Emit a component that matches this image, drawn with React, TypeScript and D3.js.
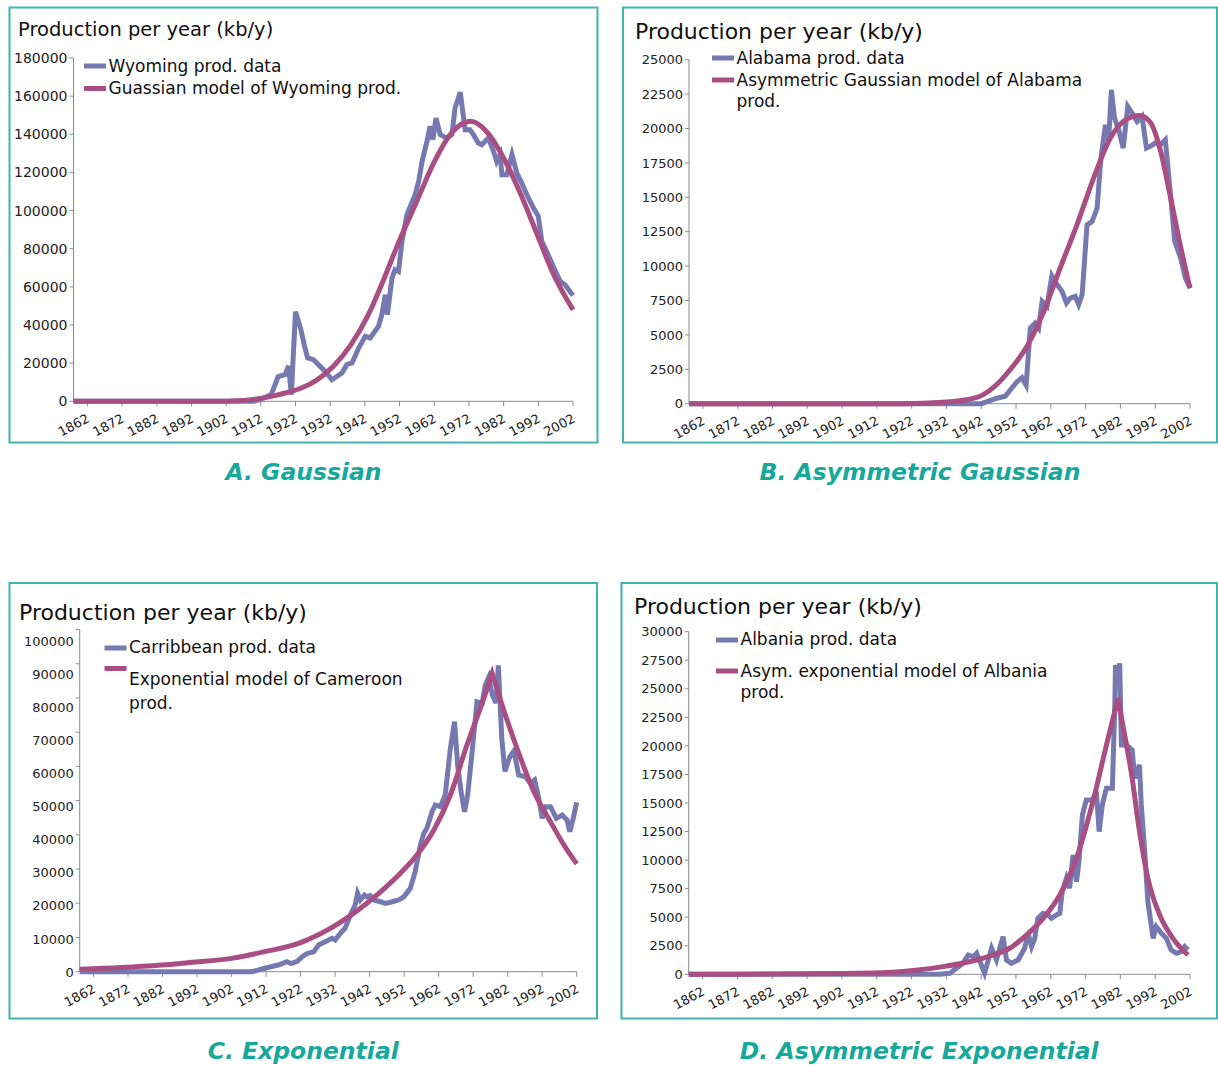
import * as d3 from "d3";

type Pt = [number, number];

const yearTicks = d3.range(1862, 2003, 10);

// A. Wyoming — data and Gaussian model (kb/y)
const wyomingData: Pt[] = [
  [1858, 0], [1910, 0], [1912, 1000], [1915, 3500], [1917, 13000], [1919, 14000], [1920, 18500],
  [1920.8, 3500], [1922, 47000], [1923.5, 38000], [1924.5, 29700], [1925.5, 22700], [1927.2, 21800],
  [1929.1, 18300], [1930.6, 15700], [1932.5, 11300], [1935.4, 14800], [1936.8, 19200], [1938.3, 20100],
  [1940.2, 27900], [1942.1, 34100], [1943.5, 33200], [1945.9, 39300], [1946.9, 45400], [1947.9, 55900],
  [1948.5, 45400], [1949.8, 64600], [1950.7, 69000], [1951.7, 68100], [1952.7, 83900], [1954.1, 97800],
  [1956.5, 108300], [1957.5, 115300], [1958.5, 125800], [1959.9, 136300], [1960.8, 144200], [1961.6, 137200],
  [1962.5, 148500], [1963.7, 139800], [1965.6, 138000], [1967.1, 139800], [1968, 153800], [1969.5, 162000],
  [1970.9, 142400], [1972.3, 142400], [1973.3, 139800], [1974.7, 135400], [1975.7, 134500], [1977.6, 138000],
  [1979.1, 131100], [1980, 125800], [1981, 129300], [1981.5, 118800], [1982.9, 118800], [1984.4, 129300],
  [1985.8, 119700], [1987.2, 114500], [1988.7, 108300], [1990.6, 101300], [1992, 97000], [1993, 83900],
  [1994.4, 78600], [1996.3, 70800], [1998.3, 62900], [1999.7, 61100], [2002, 55500],
];
const wyomingModel: Pt[] = [
  [1858, 0], [1900, 0], [1905, 300], [1910, 1000], [1916, 3000], [1920, 4800], [1924, 7200], [1928, 11000],
  [1933, 18500], [1938, 29700], [1943, 45400], [1947, 62000], [1952, 84500], [1957, 105000], [1962, 125500],
  [1967, 140700], [1972.5, 146800], [1977, 141600], [1982, 127600], [1987, 108300], [1992, 86000],
  [1996, 68100], [2002, 48000],
];

// B. Alabama — data and asymmetric Gaussian model
const alabamaData: Pt[] = [
  [1858, 0], [1942, 0], [1946.5, 400], [1948.9, 540], [1952.1, 1550], [1953.7, 1900], [1954.9, 1350],
  [1956.1, 5500], [1957.5, 5860], [1958.5, 5500], [1959.5, 7440], [1960.9, 7080], [1962.3, 9300],
  [1963.8, 8650], [1965.2, 8170], [1966.5, 7320], [1967.6, 7680], [1969, 7800], [1970, 7200], [1971, 7920],
  [1972.4, 13000], [1973.9, 13250], [1975.3, 14220], [1976.4, 17850], [1977.7, 20270], [1978.6, 19070],
  [1979.4, 22800], [1980.3, 20760], [1981.5, 19910], [1982.8, 18580], [1984.1, 21600], [1985.4, 21100],
  [1986.8, 20520], [1988.2, 20880], [1989.5, 18580], [1990.6, 18700], [1992, 18940], [1993.5, 18820],
  [1994.9, 19180], [1996.4, 15190], [1997.6, 11800], [1999.3, 10590], [2000.7, 9130], [2002, 8400],
];
const alabamaModel: Pt[] = [
  [1858, 0], [1920, 0], [1931, 100], [1941, 480], [1945.6, 1200], [1950.4, 2500], [1955.2, 4200],
  [1960, 6720], [1964.7, 9870], [1969.5, 13000], [1974.3, 16400], [1979.1, 19300], [1983.9, 20700],
  [1987.5, 20950], [1990.6, 20450], [1993.5, 18400], [1996.4, 15000], [1999.3, 11400], [2002, 8400],
];

// C. Carribbean data, exponential model of Cameroon
const caribbeanData: Pt[] = [
  [1858, 0], [1908, 0], [1911.6, 1000], [1915.5, 1950], [1918, 2900], [1919.3, 2400], [1921, 3000],
  [1922.5, 4400], [1924, 5400], [1925.8, 5800], [1927.2, 7800], [1929.1, 8770], [1931.1, 9740], [1932, 9260],
  [1933.5, 11200], [1934.9, 12680], [1936.4, 16570], [1937.8, 19490], [1938.5, 22900], [1939.3, 20950],
  [1940.5, 22400], [1941.2, 21900], [1942.2, 22200], [1943.2, 20950], [1945.1, 20450], [1946.5, 19980],
  [1948.5, 20450], [1950.4, 20950], [1951.9, 21900], [1953.8, 24370], [1955.2, 29220], [1956.7, 37020],
  [1957.7, 40440], [1958.6, 41900], [1960.1, 46750], [1961, 48700], [1962.5, 48210], [1963.9, 51630],
  [1965.4, 65280], [1966.6, 73050], [1967.5, 60400], [1968.5, 52600], [1969.5, 46750], [1970.4, 51630],
  [1971.7, 64280], [1973.1, 78900], [1974.6, 78430], [1975.5, 83770], [1976.5, 86000], [1977.5, 81000],
  [1978.6, 78500], [1979.3, 89500], [1980.3, 68000], [1981.2, 58500], [1982.6, 62800], [1983.8, 64500],
  [1985.2, 57500], [1987.1, 56980], [1988.6, 55050], [1989.8, 56020], [1991, 50670], [1992, 44820],
  [1993, 48210], [1994.4, 48210], [1996.1, 44820], [1997.8, 45790], [1999.2, 44330], [2000, 40910],
  [2001, 44820], [2002, 49500],
];
const cameroonRise: Pt[] = [
  [1858, 700], [1870, 1200], [1881.7, 1960], [1890, 2700], [1902, 3900], [1911.6, 5850], [1922, 8500],
  [1931.5, 13150], [1941.2, 19980], [1950.9, 28750], [1955.7, 34100], [1960.6, 41400], [1965.4, 51630],
  [1970.2, 66240], [1975.1, 79890], [1977.5, 87190],
];
const cameroonFall: Pt[] = [
  [1977.5, 87190], [1979.9, 79400], [1984.7, 65280], [1989.6, 52600], [1994.4, 43830], [1998.3, 37020],
  [2002, 31500],
];

// D. Albania — data and asymmetric exponential model
const albaniaData: Pt[] = [
  [1858, 0], [1930, 0], [1933, 90], [1934.9, 530], [1936.8, 960], [1938.3, 1690], [1939.7, 1540],
  [1940.7, 1840], [1943, 90], [1945, 2280], [1946.4, 1250], [1948.3, 3290], [1949.3, 1250], [1950.7, 960],
  [1952.6, 1250], [1954.5, 2280], [1955.5, 3590], [1956.5, 2420], [1957.4, 3150], [1958.3, 4900],
  [1959.8, 5340], [1961.2, 5190], [1962.2, 4900], [1963.6, 5190], [1964.6, 5340], [1965.3, 7230],
  [1966.5, 8410], [1967.4, 7530], [1968.4, 10450], [1969.4, 8110], [1970.1, 9860], [1971.1, 13950],
  [1972.2, 15260], [1974, 15260], [1975.1, 15990], [1975.9, 12490], [1976.8, 14830], [1978, 16290],
  [1979.7, 16290], [1980.4, 23580], [1980.6, 27090], [1981.3, 25620], [1981.8, 27230], [1982.3, 20080],
  [1983.7, 20080], [1985.4, 19640], [1986.1, 17160], [1987.5, 18330], [1988, 14830], [1989, 10740],
  [1989.9, 6360], [1991.4, 3150], [1992.3, 4170], [1993.8, 3590], [1995.2, 3150], [1996.6, 2130],
  [1998.1, 1840], [1999.5, 1980], [2000.5, 2420], [2001.4, 2130],
];
const albaniaRise: Pt[] = [
  [1858, 0], [1900, 60], [1915, 150], [1923.8, 380], [1931.1, 670], [1940.7, 1250], [1945.4, 1690],
  [1950.2, 2280], [1955, 3440], [1959.8, 4900], [1964.6, 6940], [1969.4, 10160], [1974.1, 15110],
  [1978, 20080], [1981.3, 24170],
];
const albaniaFall: Pt[] = [
  [1981.3, 24170], [1983.2, 21000], [1985.1, 17740], [1987.5, 12490], [1989.9, 8410], [1993.3, 5190],
  [1997.1, 3150], [2001.4, 1690],
];

const DATA_COLOR = "#7579b0";
const MODEL_COLOR = "#a84e82";
const BORDER = "#3fb5ac";
const CAPTION = "#17a89c";
const FONT = "'DejaVu Sans', Verdana, sans-serif";

type LegendItem = { color: string; swatchY: number; baseline: number; lines: string[]; lh?: number };

type PanelProps = {
  box: { x: number; y: number; w: number; h: number };
  plot: { left: number; right: number; top: number; bottom: number };
  yMax: number;
  yStep: number;
  labelRange?: [number, number];
  yFont: number;
  title: { x: number; y: number; size: number };
  legendX: number;
  legend: LegendItem[];
  data: Pt[];
  model: Pt[];
  modelFall?: Pt[];
  caption: string;
  captionY: number;
};

function Panel(p: PanelProps) {
  const x = d3.scaleLinear().domain([1858, 2002]).range([p.plot.left, p.plot.right]);
  const y = d3.scaleLinear().domain([0, p.yMax]).range([p.plot.bottom, p.plot.top]);
  // the Excel export placed some y labels slightly off their ticks; keep that spacing
  const yLab = d3.scaleLinear().domain([0, p.yMax]).range(p.labelRange ?? [p.plot.bottom, p.plot.top]);
  const yTicks = d3.range(0, p.yMax + p.yStep / 2, p.yStep);

  const straight = d3.line<Pt>().x(d => x(d[0])).y(d => y(d[1]));
  const smooth = d3.line<Pt>().x(d => x(d[0])).y(d => y(d[1])).curve(d3.curveMonotoneX);
  let modelPath = smooth(p.model) ?? "";
  if (p.modelFall) modelPath += (smooth(p.modelFall) ?? "").replace(/^M[^A-Za-z]*/, "");

  const axisColor = "#8c8c8c";
  const sw = 22;

  return (
    <g fontFamily={FONT}>
      <rect x={p.box.x} y={p.box.y} width={p.box.w} height={p.box.h} fill="#fff" stroke={BORDER} strokeWidth={2} />
      <text x={p.title.x} y={p.title.y} fontSize={p.title.size} fill="#111">Production per year (kb/y)</text>

      {/* y axis */}
      <line x1={p.plot.left} x2={p.plot.left} y1={p.plot.top} y2={p.plot.bottom} stroke={axisColor} />
      {yTicks.map(t => (
        <g key={t}>
          <line x1={p.plot.left - 4} x2={p.plot.left} y1={y(t)} y2={y(t)} stroke={axisColor} />
          <text x={p.plot.left - 6} y={yLab(t)} dy="0.36em" textAnchor="end" fontSize={p.yFont} fill="#222">{t}</text>
        </g>
      ))}

      {/* x axis */}
      <line x1={p.plot.left} x2={p.plot.right} y1={p.plot.bottom} y2={p.plot.bottom} stroke={axisColor} />
      {yearTicks.map(t => (
        <g key={t}>
          <line x1={x(t)} x2={x(t)} y1={p.plot.bottom} y2={p.plot.bottom + 5} stroke={axisColor} />
          <text transform={`translate(${x(t) + 3},${p.plot.bottom + 20}) rotate(-28)`} textAnchor="end" fontSize={13} fill="#222">{t}</text>
        </g>
      ))}

      <path d={straight(p.data) ?? ""} fill="none" stroke={DATA_COLOR} strokeWidth={5} strokeLinejoin="miter" />
      <path d={modelPath} fill="none" stroke={MODEL_COLOR} strokeWidth={5} />

      {p.legend.map((it, i) => (
        <g key={i}>
          <line x1={p.legendX} x2={p.legendX + sw} y1={it.swatchY} y2={it.swatchY} stroke={it.color} strokeWidth={5} />
          <text fontSize={17} fill="#111">
            {it.lines.map((ln, j) => (
              <tspan key={j} x={p.legendX + sw + 2.5} y={it.baseline + j * (it.lh ?? 21)}>{ln}</tspan>
            ))}
          </text>
        </g>
      ))}

      <text x={p.box.x + p.box.w / 2} y={p.captionY} textAnchor="middle" fontSize={23.5} fontWeight="bold" fontStyle="italic" fill={CAPTION}>
        {p.caption}
      </text>
    </g>
  );
}

export default function App() {
  return (
    <svg width={1218} height={1065} style={{ position: "absolute", left: 0, top: 0, background: "#fff" }}>
      <Panel
        box={{ x: 9.5, y: 7.5, w: 588, h: 435 }}
        plot={{ left: 73.5, right: 573, top: 58, bottom: 401.3 }}
        yMax={180000} yStep={20000} yFont={14}
        title={{ x: 18, y: 36, size: 19.5 }}
        legendX={84}
        legend={[
          { color: DATA_COLOR, swatchY: 66, baseline: 71.5, lines: ["Wyoming prod. data"] },
          { color: MODEL_COLOR, swatchY: 88.5, baseline: 94, lines: ["Guassian model of Wyoming prod."] },
        ]}
        data={wyomingData} model={wyomingModel}
        caption="A. Gaussian" captionY={480}
      />
      <Panel
        box={{ x: 623, y: 7.5, w: 594, h: 435 }}
        plot={{ left: 689, right: 1190, top: 59.7, bottom: 403.7 }}
        yMax={25000} yStep={2500} yFont={13}
        title={{ x: 635, y: 39, size: 22 }}
        legendX={712}
        legend={[
          { color: DATA_COLOR, swatchY: 58, baseline: 64, lines: ["Alabama prod. data"] },
          { color: MODEL_COLOR, swatchY: 80, baseline: 86.3, lines: ["Asymmetric Gaussian model of Alabama", "prod."], lh: 21 },
        ]}
        data={alabamaData} model={alabamaModel}
        caption="B. Asymmetric Gaussian" captionY={480}
      />
      <Panel
        box={{ x: 9.5, y: 583, w: 587.5, h: 435.5 }}
        plot={{ left: 79.7, right: 576.7, top: 629.5, bottom: 971.7 }}
        labelRange={[972, 641]}
        yMax={100000} yStep={10000} yFont={13}
        title={{ x: 19, y: 620, size: 22 }}
        legendX={104.5}
        legend={[
          { color: DATA_COLOR, swatchY: 648, baseline: 653.3, lines: ["Carribbean prod. data"] },
          { color: MODEL_COLOR, swatchY: 668.5, baseline: 685, lines: ["Exponential model of Cameroon", "prod."], lh: 23.5 },
        ]}
        data={caribbeanData} model={cameroonRise} modelFall={cameroonFall}
        caption="C. Exponential" captionY={1058.5}
      />
      <Panel
        box={{ x: 621.5, y: 583, w: 595.5, h: 435.5 }}
        plot={{ left: 688.7, right: 1190, top: 631.7, bottom: 974.3 }}
        yMax={30000} yStep={2500} yFont={13}
        title={{ x: 634, y: 614, size: 22 }}
        legendX={716}
        legend={[
          { color: DATA_COLOR, swatchY: 640, baseline: 645, lines: ["Albania prod. data"] },
          { color: MODEL_COLOR, swatchY: 671, baseline: 676.7, lines: ["Asym. exponential model of Albania", "prod."], lh: 21.5 },
        ]}
        data={albaniaData} model={albaniaRise} modelFall={albaniaFall}
        caption="D. Asymmetric Exponential" captionY={1058.5}
      />
    </svg>
  );
}
